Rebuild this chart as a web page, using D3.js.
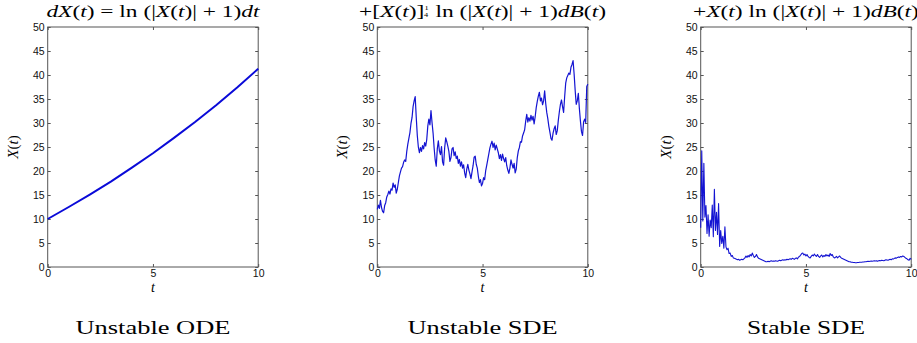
<!DOCTYPE html>
<html>
<head>
<meta charset="utf-8">
<script src="https://cdn.jsdelivr.net/npm/d3@7"></script>
<style>
  body { margin: 0; background: #fff; }
  svg { display: block; }
</style>
</head>
<body>
<div id="chart"></div>
<script>
const width = 917;
const height = 343;

// y ticks and x ticks shared by the three panels
const yTicks = [0, 5, 10, 15, 20, 25, 30, 35, 40, 45, 50];
const xTicks = [0, 5, 10];

const captions = ['Unstable ODE', 'Unstable SDE', 'Stable SDE'];

// ODE solution, read at t = 0,1,...,10
const odeValues = [10, 12.5, 15.1, 17.8, 20.7, 23.7, 26.9, 30.2, 33.7, 37.4, 41.3];

// unstable SDE path, read every 0.05 in t
const unstableValues = [
  12.0, 12.9, 12.2, 13.9, 12.4, 11.6, 11.3, 12.8, 13.4, 14.6,
  15.1, 15.8, 15.2, 16.3, 16.0, 17.5, 16.6, 17.1, 15.4, 16.2,
  17.6, 19.0, 19.8, 20.6, 20.9, 21.8, 22.3, 22.0, 24.1, 25.6,
  26.8, 28.0, 29.9, 31.1, 33.4, 34.6, 35.5, 31.2, 27.4, 25.0,
  23.8, 24.9, 24.1, 25.3, 24.6, 25.9, 25.2, 26.6, 29.4, 30.8,
  29.6, 32.6, 30.1, 27.9, 24.8, 22.3, 21.0, 24.6, 26.3, 24.2,
  23.4, 25.1, 21.9, 21.2, 24.8, 26.9, 26.1, 25.2, 24.1, 22.0,
  22.8, 24.6, 24.9, 23.2, 24.0, 22.6, 23.1, 21.6, 22.4, 21.0,
  21.9, 20.6, 21.3, 19.6, 18.6, 20.4, 21.4, 20.2, 19.4, 18.4,
  19.8, 21.1, 22.9, 23.1, 21.4, 20.6, 18.9, 17.6, 18.2, 16.9,
  17.4, 18.6, 18.2, 20.1, 21.2, 22.4, 23.6, 24.8, 25.6, 26.2,
  24.9, 25.8, 24.4, 25.4, 24.6, 23.8, 22.6, 23.4, 22.2, 23.5,
  22.6, 21.9, 22.8, 21.1, 20.2, 19.5, 20.6, 22.3, 21.4, 20.6,
  21.6, 19.6, 20.4, 22.8, 24.2, 24.9, 26.1, 26.0, 27.3, 27.9,
  28.6, 30.4, 31.8, 30.2, 31.1, 30.4, 31.6, 30.6, 31.4, 29.8,
  31.3, 33.2, 34.5, 35.6, 36.4, 34.6, 35.2, 33.8, 34.6, 36.7,
  34.1, 32.2, 30.9, 29.3, 28.1, 26.8, 26.4, 27.9, 28.8, 29.4,
  27.6, 28.4, 30.6, 32.4, 33.9, 34.8, 33.4, 32.2, 35.4, 38.3,
  39.4, 39.9, 40.4, 40.1, 41.6, 42.2, 43.0, 40.2, 36.8, 33.9,
  34.6, 36.2, 33.0, 30.4, 28.2, 27.4, 30.2, 30.8, 30.1, 37.6,
  38.1
];

// stable SDE path, read every 0.05 in t
const stableValues = [
  8.2, 24.2, 9.6, 21.6, 10.4, 12.8, 7.0, 10.9, 6.4, 9.8,
  8.2, 12.9, 6.3, 16.2, 7.6, 11.4, 6.8, 13.2, 4.3, 7.6,
  4.9, 6.4, 3.9, 8.4, 4.2, 3.6, 3.9, 2.8, 2.9, 2.2,
  2.4, 1.9, 1.8, 1.7, 1.6, 1.5, 1.6, 1.4, 1.5, 1.6,
  1.5, 1.7, 1.9, 2.3, 2.0, 2.4, 2.1, 2.6, 2.3, 2.9,
  2.4, 2.0, 2.2, 2.6, 2.1, 1.8, 1.7, 1.6, 1.5, 1.4,
  1.3, 1.2, 1.1, 1.1, 1.2, 1.1, 1.2, 1.3, 1.2, 1.25,
  1.2, 1.3, 1.25, 1.2, 1.3, 1.4, 1.3, 1.4, 1.5, 1.4,
  1.5, 1.45, 1.6, 1.5, 1.6, 1.7, 1.6, 1.8, 1.7, 1.6,
  1.8, 1.9, 1.7, 2.1, 2.2, 2.5, 2.8, 2.9, 2.5, 2.7,
  2.3, 2.6, 2.2, 2.0, 1.9, 2.2, 2.5, 2.3, 2.7, 2.4,
  2.2, 2.6, 2.2, 2.0, 2.3, 2.5, 2.1, 2.4, 2.2, 2.6,
  2.3, 2.5, 2.2, 2.8, 2.4, 2.6, 2.1, 1.9, 2.0, 2.2,
  1.9, 2.1, 2.3, 2.0, 1.8, 1.7, 1.6, 1.5, 1.4, 1.3,
  1.2, 1.1, 1.1, 1.0, 1.0, 0.95, 0.95, 0.9, 0.9, 0.95,
  0.95, 1.0, 1.0, 1.0, 1.05, 1.05, 1.1, 1.1, 1.15, 1.2,
  1.15, 1.2, 1.25, 1.2, 1.25, 1.3, 1.25, 1.3, 1.2, 1.3,
  1.35, 1.3, 1.4, 1.35, 1.3, 1.4, 1.5, 1.45, 1.4, 1.5,
  1.6, 1.5, 1.7, 1.65, 1.8, 1.9, 1.85, 2.0, 2.1, 2.0,
  2.2, 2.1, 2.3, 2.2, 2.0, 1.8, 1.7, 1.5, 1.4, 1.8,
  1.6
];

// titles as [text, style] pieces: 0 upright, 1 italic, 2 stacked fraction
const titles = [
  [['d', 1], ['X', 1], ['(', 0], ['t', 1], [') = ln (|', 0], ['X', 1], ['(', 0], ['t', 1], [')| + 1)', 0], ['dt', 1]],
  [['+[', 0], ['X', 1], ['(', 0], ['t', 1], [')]', 0], ['14', 2], [' ln (|', 0], ['X', 1], ['(', 0], ['t', 1], [')| + 1)', 0], ['dB', 1], ['(', 0], ['t', 1], [')', 0]],
  [['+', 0], ['X', 1], ['(', 0], ['t', 1], [') ln (|', 0], ['X', 1], ['(', 0], ['t', 1], [')| + 1)', 0], ['dB', 1], ['(', 0], ['t', 1], [')', 0]]
];
const titleWidths = [213, 247, 226];

const panels = [
  { left: 47.7, values: odeValues, stroke: 2, color: '#0a0ad8' },
  { left: 377.3, values: unstableValues, stroke: 1.2, color: '#1414d2' },
  { left: 700.7, values: stableValues, stroke: 1.1, color: '#1414d2' }
];

const pw = 210.5;
const ph = 240;
const plotTop = 27;

const svg = d3.select('#chart')
  .append('svg')
  .attr('width', width)
  .attr('height', height)

const serif = '"Liberation Serif", "Times New Roman", serif';
const sans = '"Liberation Sans", Arial, sans-serif';

function mathText(sel, pieces) {
  let shift = 0
  pieces.forEach(p => {
    if (p[1] === 2) {
      // tiny stacked fraction: numerator raised, denominator on the baseline
      sel.append('tspan').text(p[0][0]).attr('font-size', 6).attr('dy', -7)
      sel.append('tspan').text(p[0][1]).attr('font-size', 6).attr('dx', -3.2).attr('dy', 7)
      shift = 1
      return
    }
    const ts = sel.append('tspan').text(p[0])
    if (shift) { ts.attr('dx', 1); shift = 0 }
    if (p[1] === 1) ts.attr('font-style', 'italic')
  })
}

panels.forEach((p, k) => {
  const g = svg.append('g').attr('transform', `translate(${p.left},${plotTop})`)

  const x = d3.scaleLinear().domain([0, 10]).range([0, pw])
  const y = d3.scaleLinear().domain([0, 50]).range([ph, 0])

  // frame
  g.append('rect')
    .attr('width', pw).attr('height', ph)
    .attr('fill', 'none').attr('stroke', '#555').attr('stroke-width', 1)

  const axes = [
    [d3.axisLeft(y).tickValues(yTicks), 0, 0, true],
    [d3.axisRight(y).tickValues(yTicks).tickFormat(''), pw, 0, false],
    [d3.axisBottom(x).tickValues(xTicks), 0, ph, true],
    [d3.axisTop(x).tickValues(xTicks).tickFormat(''), 0, 0, false]
  ]
  axes.forEach(a => {
    const ax = g.append('g')
      .attr('transform', `translate(${a[1]},${a[2]})`)
      .call(a[0].tickSizeInner(-3).tickSizeOuter(0).tickPadding(a[3] ? 3 : 0))
    ax.select('.domain').remove()
    ax.selectAll('line').attr('stroke', '#555')
    ax.selectAll('text')
      .attr('font-family', sans)
      .attr('font-size', 10.5)
      .attr('fill', '#111')
  })

  const n = p.values.length
  const line = d3.line()
    .x((d, i) => x(i * 10 / (n - 1)))
    .y(d => y(d))

  g.append('path')
    .datum(p.values)
    .attr('d', line)
    .attr('fill', 'none')
    .attr('stroke', p.color)
    .attr('stroke-width', p.stroke)
    .attr('stroke-linejoin', 'round')

  // title
  const t = g.append('text')
    .attr('x', pw / 2).attr('y', -10)
    .attr('text-anchor', 'middle')
    .attr('font-family', serif)
    .attr('font-size', 17)
    .attr('textLength', titleWidths[k])
    .attr('lengthAdjust', 'spacingAndGlyphs')
  mathText(t, titles[k])

  // x label
  g.append('text')
    .attr('x', pw / 2).attr('y', ph + 25)
    .attr('text-anchor', 'middle')
    .attr('font-family', serif)
    .attr('font-style', 'italic')
    .attr('font-size', 14)
    .text('t')

  // y label
  const yl = g.append('text')
    .attr('transform', `translate(-30,${ph / 2}) rotate(-90)`)
    .attr('text-anchor', 'middle')
    .attr('font-family', serif)
    .attr('font-size', 15)
  mathText(yl, [['X', 1], ['(', 0], ['t', 1], [')', 0]])

  // caption below
  g.append('text')
    .attr('x', pw / 2).attr('y', 334 - plotTop)
    .attr('text-anchor', 'middle')
    .attr('font-family', serif)
    .attr('font-size', 19)
    .attr('textLength', [155, 150, 118][k])
    .attr('lengthAdjust', 'spacingAndGlyphs')
    .text(captions[k])
})
</script>
</body>
</html>
